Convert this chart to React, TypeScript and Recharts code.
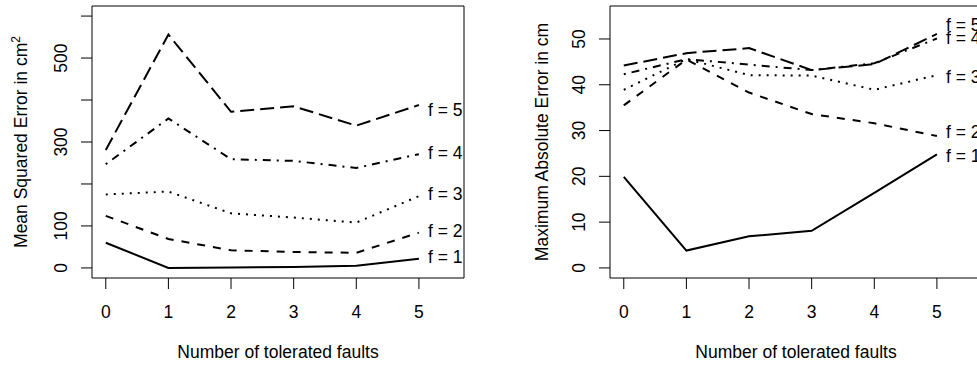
import { LineChart, Line, XAxis, YAxis, ReferenceArea } from "recharts";

const faults = [0, 1, 2, 3, 4, 5];
const seriesNames = ["f = 1", "f = 2", "f = 3", "f = 4", "f = 5"];

// mean squared error (cm^2), one list per f
const mseF1 = [60, 0, 1, 2, 5, 22];
const mseF2 = [124, 69, 42, 38, 36, 84];
const mseF3 = [175, 182, 130, 120, 108, 171];
const mseF4 = [247, 356, 259, 255, 238, 271];
const mseF5 = [281, 556, 372, 385, 339, 388];

// maximum absolute error (cm)
const maxF1 = [19.9, 3.8, 6.9, 8.1, 16.4, 24.8];
const maxF2 = [35.5, 45.5, 38.3, 33.6, 31.6, 28.8];
const maxF3 = [38.9, 45.6, 42.1, 42.0, 38.9, 42.1];
const maxF4 = [42.3, 45.6, 44.4, 43.2, 44.7, 50.1];
const maxF5 = [44.2, 46.9, 48.0, 43.2, 44.5, 51.1];

const mseTicks = [0, 100, 200, 300, 400, 500, 600];
const mseTickLabels = [0, 100, 300, 500];
const maxTicks = [0, 10, 20, 30, 40, 50];

const font = "'Liberation Sans', Arial, Helvetica, sans-serif";
const fs = 17.5;

// R line types at lwd = 2
const styles = [
  { dash: undefined },
  { dash: "8 8" },
  { dash: "2 6" },
  { dash: "2 6 8 6" },
  { dash: "14 6" },
];

function toRows(cols: number[][]) {
  return faults.map((x, i) => {
    const row: Record<string, number> = { x };
    cols.forEach((c, k) => (row["f" + (k + 1)] = c[i]));
    return row;
  });
}

const mseRows = toRows([mseF1, mseF2, mseF3, mseF4, mseF5]);
const maxRows = toRows([maxF1, maxF2, maxF3, maxF4, maxF5]);

type PanelProps = {
  rows: Record<string, number>[];
  width: number;
  plotLeft: number;
  plotRight: number;
  yDomain: [number, number];
  yTicks: number[];
  yLabels: number[];
  labelX: number;
  titleX: number;
  title: React.ReactNode;
  labelDy: number[];
};

function Panel(p: PanelProps) {
  const top = 6;
  const bottom = 278;
  const last = faults.length - 1;
  return (
    <LineChart
      width={p.width}
      height={367}
      data={p.rows}
      margin={{ top, left: p.plotLeft - 60, right: p.width - p.plotRight, bottom: 367 - bottom - 60 }}
    >
      <XAxis
        dataKey="x"
        type="number"
        domain={[-0.22, 5.72]}
        allowDataOverflow
        ticks={faults}
        axisLine={false}
        tickSize={11}
        tickLine={{ stroke: "#000" }}
        height={60}
        tick={(t: any) => (
          <text x={t.x} y={318} textAnchor="middle" fontFamily={font} fontSize={fs} fill="#000">
            {t.payload.value}
          </text>
        )}
      />
      <YAxis
        type="number"
        domain={p.yDomain}
        allowDataOverflow
        ticks={p.yTicks}
        axisLine={false}
        tickSize={11}
        tickLine={{ stroke: "#000" }}
        width={60}
        tick={(t: any) =>
          p.yLabels.includes(t.payload.value) ? (
            <text
              x={p.labelX}
              y={t.y}
              transform={`rotate(-90, ${p.labelX}, ${t.y})`}
              textAnchor="middle"
              fontFamily={font}
              fontSize={fs}
              fill="#000"
            >
              {t.payload.value}
            </text>
          ) : (
            <g />
          )
        }
      />
      <ReferenceArea
        x1={-0.22}
        x2={5.72}
        y1={p.yDomain[0]}
        y2={p.yDomain[1]}
        fill="none"
        fillOpacity={0}
        stroke="#000"
        strokeWidth={1}
        ifOverflow="visible"
      />
      {seriesNames.map((name, k) => (
        <Line
          key={name}
          dataKey={"f" + (k + 1)}
          type="linear"
          stroke="#000"
          strokeWidth={2}
          strokeDasharray={styles[k].dash}
          dot={false}
          isAnimationActive={false}
          label={(l: any) =>
            l.index === last ? (
              <text
                key={name}
                x={l.x + 9}
                y={l.y + p.labelDy[k] + 6.3}
                fontFamily={font}
                fontSize={fs}
                fill="#000"
              >
                {name}
              </text>
            ) : (
              <g key={name + l.index} />
            )
          }
        />
      ))}
      <text
        x={(p.plotLeft + p.plotRight) / 2}
        y={358}
        textAnchor="middle"
        fontFamily={font}
        fontSize={fs}
        fill="#000"
      >
        Number of tolerated faults
      </text>
      <text
        x={p.titleX}
        y={(top + bottom) / 2}
        transform={`rotate(-90, ${p.titleX}, ${(top + bottom) / 2})`}
        textAnchor="middle"
        fontFamily={font}
        fontSize={fs}
        fill="#000"
      >
        {p.title}
      </text>
    </LineChart>
  );
}

export default function App() {
  return (
    <div style={{ position: "absolute", left: 0, top: 0, width: 977, height: 367, overflow: "hidden", background: "#fff" }}>
      <div style={{ position: "absolute", left: 0, top: 0 }}>
        <Panel
          rows={mseRows}
          width={490}
          plotLeft={92}
          plotRight={464}
          yDomain={[-24, 624]}
          yTicks={mseTicks}
          yLabels={mseTickLabels}
          labelX={67}
          titleX={26.7}
          labelDy={[-1.7, -2, -2.7, -1.7, 4.3]}
          title={
            <>
              <tspan>Mean Squared Error in cm</tspan>
              <tspan dy={-7} fontSize={12}>2</tspan>
            </>
          }
        />
      </div>
      <div style={{ position: "absolute", left: 490, top: 0 }}>
        <Panel
          rows={maxRows}
          width={500}
          plotLeft={120}
          plotRight={492}
          yDomain={[-2.2, 57.2]}
          yTicks={maxTicks}
          yLabels={maxTicks}
          labelX={95}
          titleX={58.3}
          labelDy={[1, -4, 1.5, -0.5, -9]}
          title="Maximum Absolute Error in cm"
        />
      </div>
    </div>
  );
}
